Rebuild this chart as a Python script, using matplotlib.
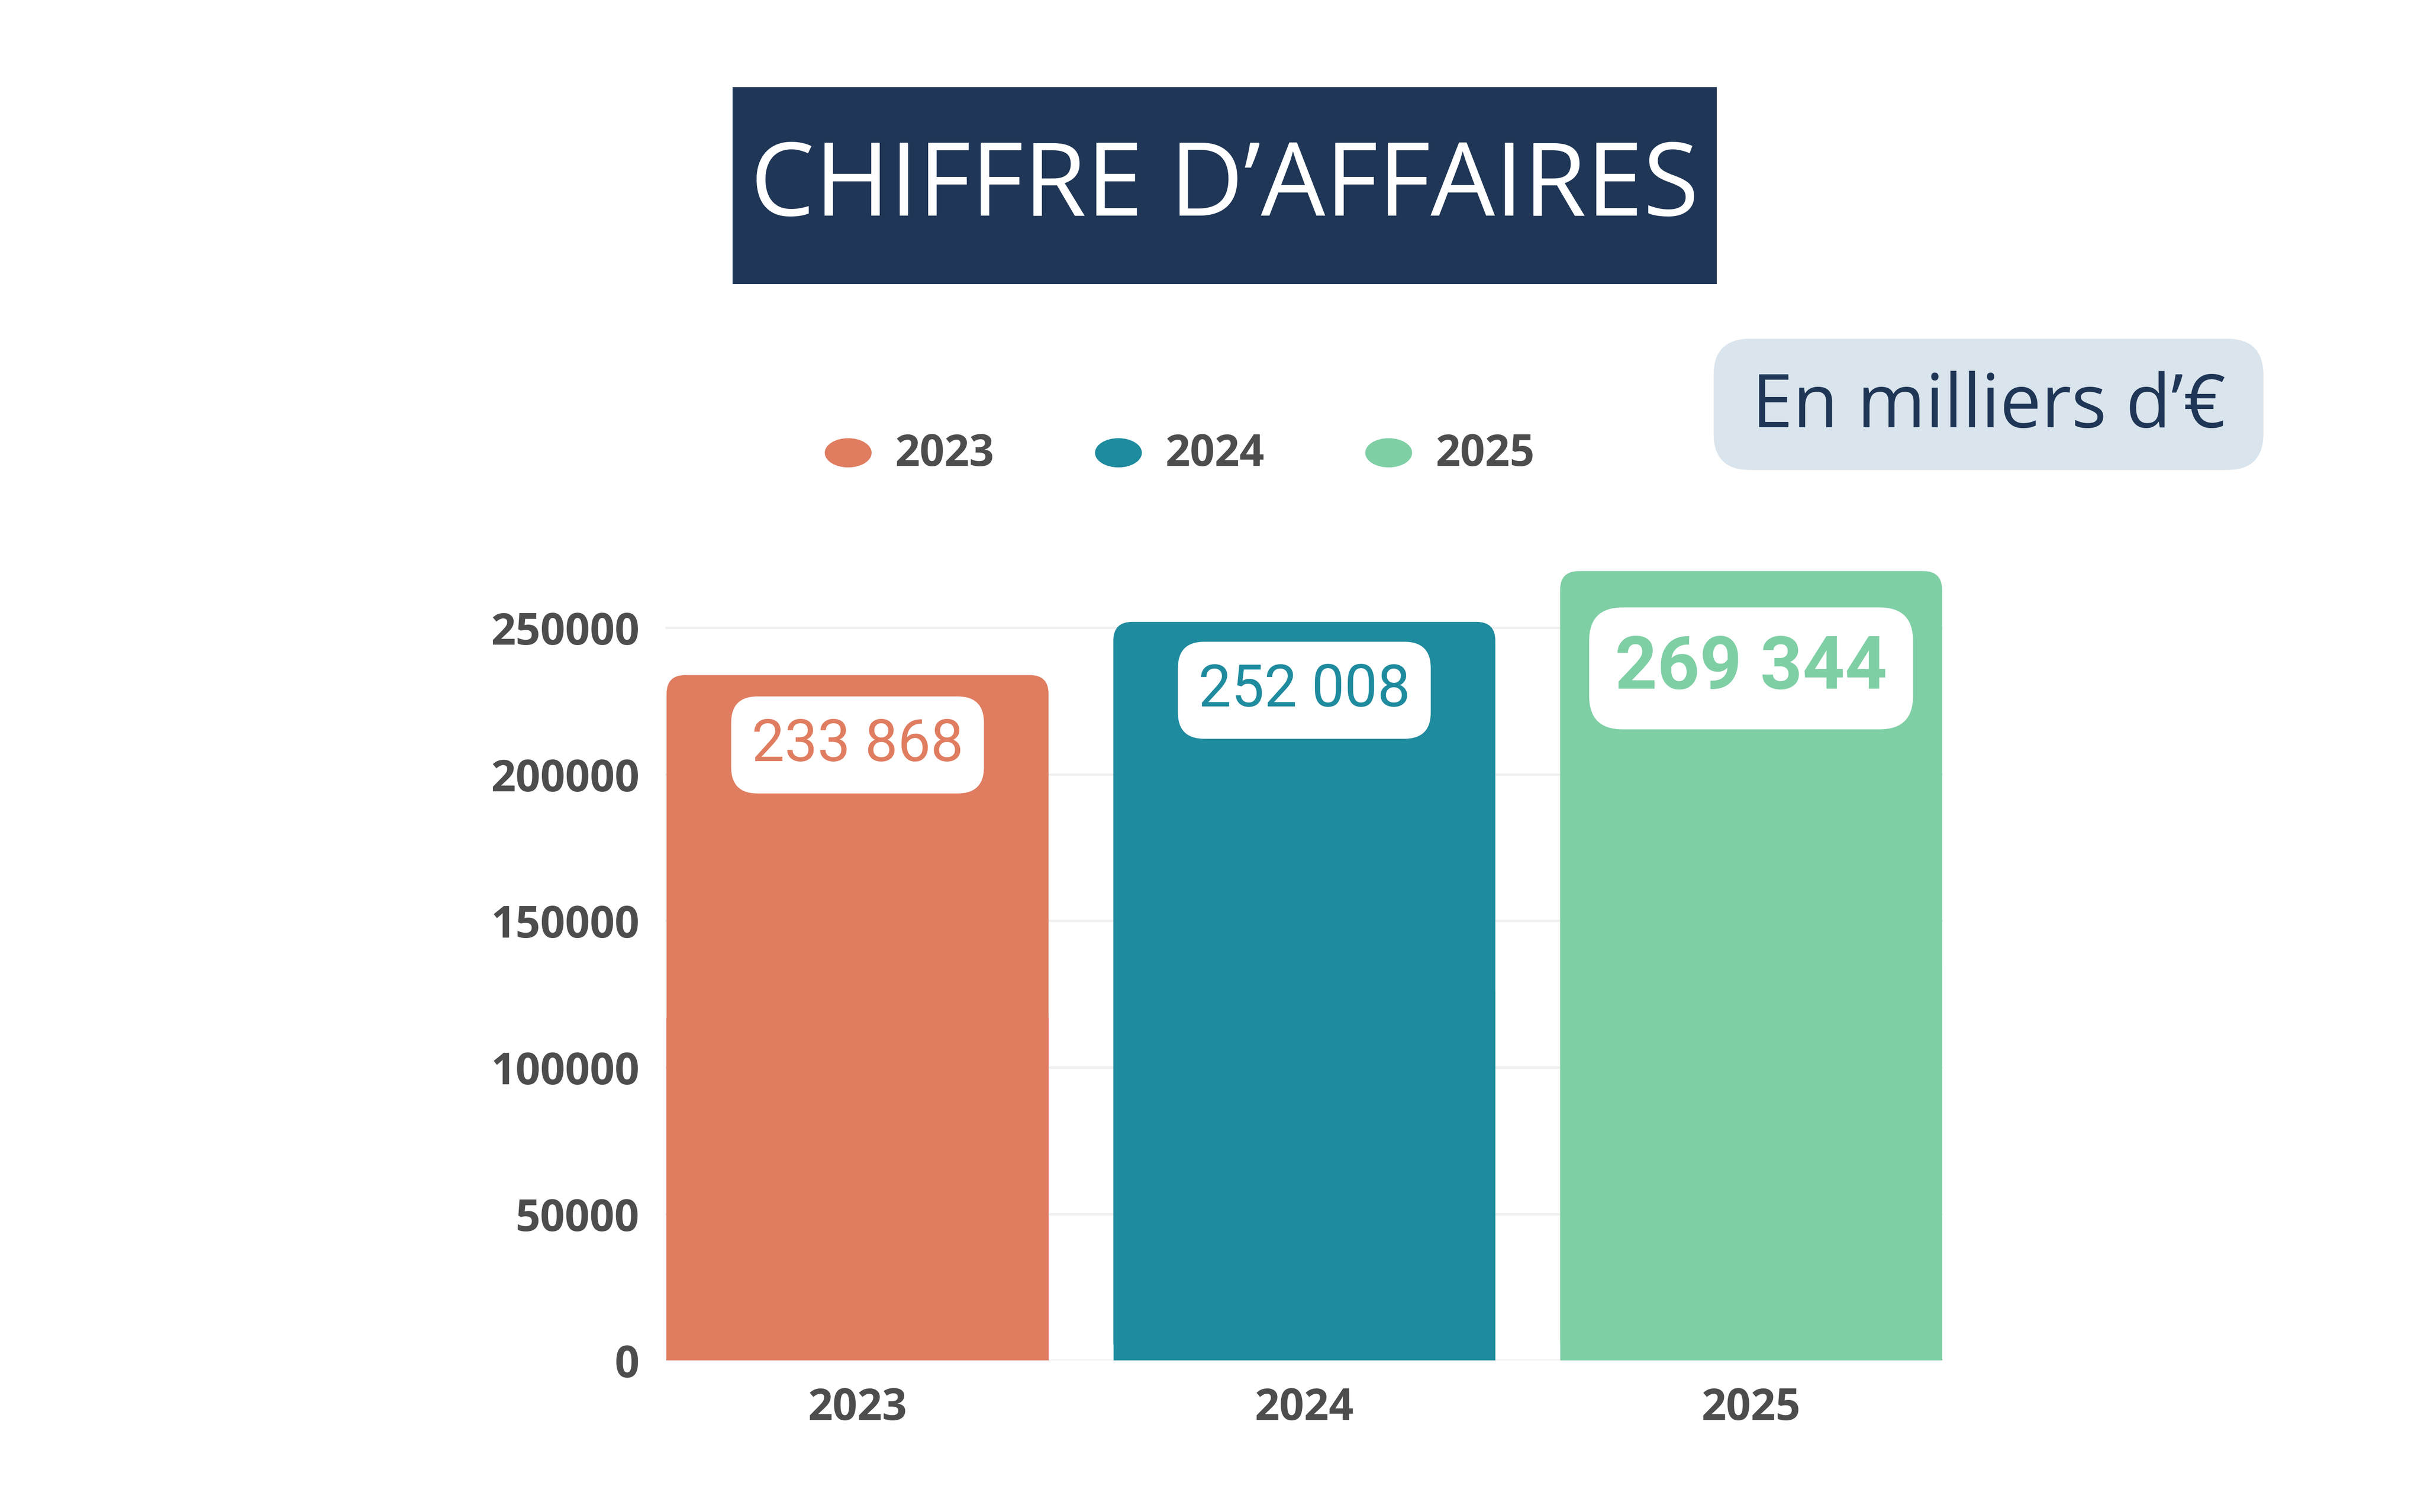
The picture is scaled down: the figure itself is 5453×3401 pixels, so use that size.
import matplotlib
matplotlib.use("Agg")
import matplotlib.pyplot as plt
from matplotlib.patches import FancyBboxPatch, Rectangle

years = ["2023", "2024", "2025"]
values = [233868, 252008, 269344]
labels = ["233 868", "252 008", "269 344"]
colors = ["#e07d60", "#1f8b9e", "#7fcfa5"]
yticks = [0, 50000, 100000, 150000, 200000, 250000]

W, H = 1552, 968
fig = plt.figure(figsize=(W/100, H/100), dpi=351.4)
ax = fig.add_axes([426/W, 1-871/H, (1244-426)/W, (871-360)/H])
ymax = (871-360)/93.8*50000
ax.set_xlim(-0.43, 2.43)
ax.set_ylim(0, ymax)
for s in ax.spines.values():
    s.set_visible(False)
ax.set_yticks(yticks)
ax.set_yticklabels([str(v) for v in yticks])
ax.set_xticks(range(3))
ax.set_xticklabels(years)
ax.tick_params(length=0, labelsize=20, labelcolor="#4d4d4d", pad=12)
for lab in ax.get_xticklabels()+ax.get_yticklabels():
    lab.set_fontweight("bold"); lab.set_family("Open Sans")
ax.grid(axis="y", color="#f0f0f0", lw=1)
ax.set_axisbelow(True)

bars = ax.bar(range(3), values, width=0.855, color=colors)
aspect = (50000/93.8)*286.5
for b, c, v, lab, i in zip(bars, colors, values, labels, range(3)):
    b.set_visible(False)
    x0, w, h = b.get_x(), b.get_width(), b.get_height()
    r = 12/286.5
    ax.add_patch(FancyBboxPatch((x0+r, r*aspect), w-2*r, h-2*r*aspect,
                 boxstyle=f"round,pad={r}", mutation_aspect=aspect, fc=c, ec="none", zorder=2))
    ax.add_patch(Rectangle((x0, 0), w, h/2, fc=c, ec="none", zorder=2))
    big = (i == 2)
    ty = v - (440-402 if i == 1 else (477-433 if i == 0 else 430-366))*50000/93.8 - (0 if i==2 else 0)
    ty = (871-[477, 442, 428][i])/93.8*50000
    ax.text(i, ty, lab, ha="center", va="center", color=c, zorder=4,
            fontsize=34 if big else 27, fontweight="bold" if big else "normal",
            family="Roboto", fontstretch="condensed",
            bbox=dict(boxstyle="round,pad=0.35,rounding_size=0.45", fc="white", ec="none"))

# Title
fig.patches.append(Rectangle((469/W, 1-182/H), (1099-469)/W, (182-56)/H,
                   transform=fig.transFigure, fc="#1f3656", ec="none"))
fig.text(784/W, 1-121/H, "CHIFFRE D\u2019AFFAIRES", ha="center", va="center",
         color="white", fontsize=47, family="Open Sans")

# Unit box
fig.patches.append(FancyBboxPatch((1097/W, 1-301/H), (1449-1097)/W, (301-217)/H,
                   boxstyle="round,pad=0,rounding_size=0.015", transform=fig.transFigure,
                   fc="#dae4ec", ec="none", mutation_aspect=W/H))
fig.text(1273/W, 1-261/H, "En milliers d\u2019\u20ac", ha="center", va="center",
         color="#1f3656", fontsize=34, family="Open Sans")

# Legend
for x, c, y in zip([543, 716, 889], colors, years):
    fig.patches.append(plt.Circle((x/W, 1-290/H), 15/W, transform=fig.transFigure,
                       fc=c, ec="none"))
    ax.figure.patches[-1].set_transform(fig.transFigure)
    fig.text((x+30)/W, 1-291/H, y, ha="left", va="center", color="#4d4d4d",
             fontsize=20, fontweight="bold", family="Open Sans")

fig.savefig("out.png", dpi=351.4, facecolor="white")
